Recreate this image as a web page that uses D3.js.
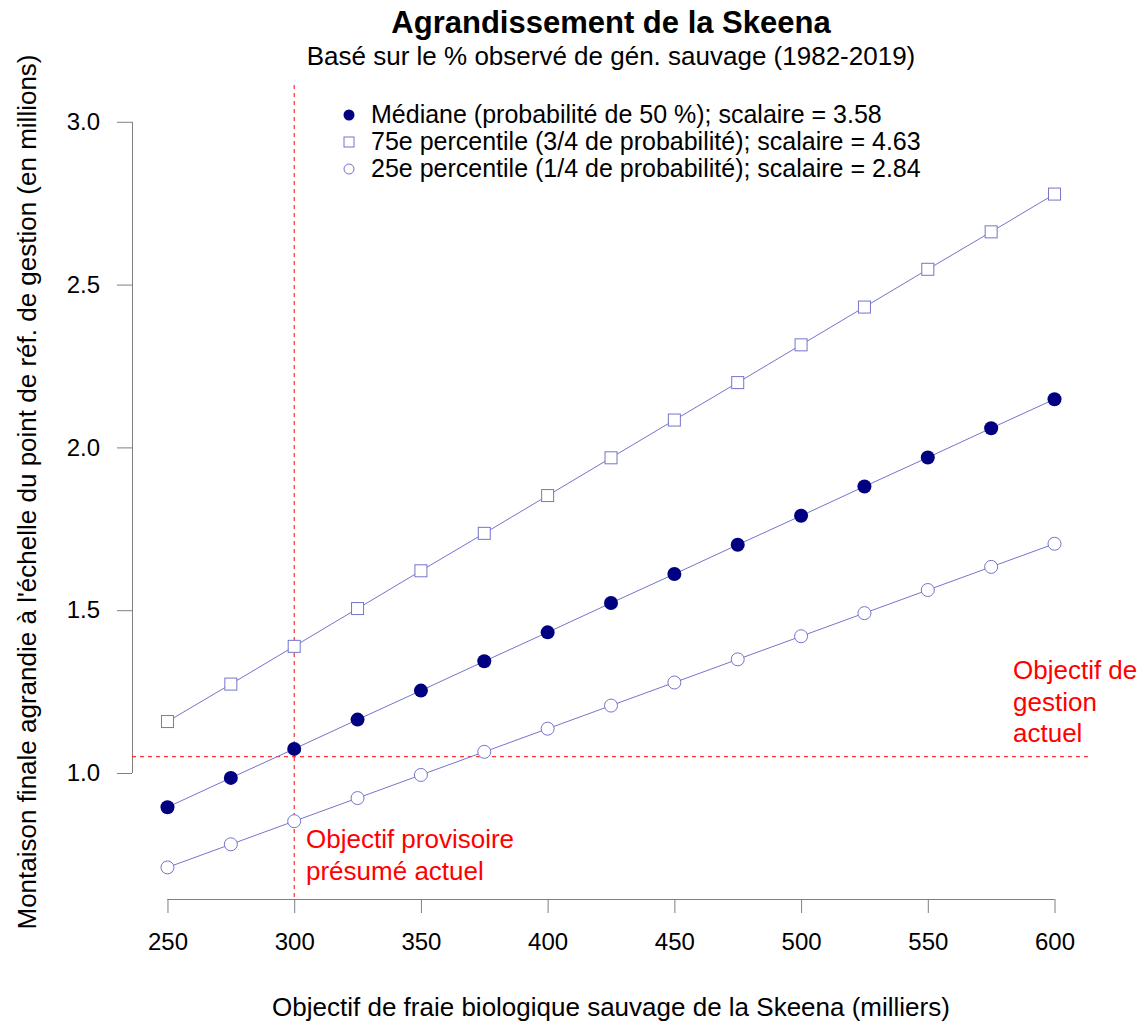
<!DOCTYPE html>
<html>
<head>
<meta charset="utf-8">
<script src="https://cdn.jsdelivr.net/npm/d3@7"></script>
<style>
  body { margin: 0; background: #fff; }
  text { font-family: "Liberation Sans", Arial, sans-serif; }
</style>
</head>
<body>
<svg id="chart" width="1141" height="1025"></svg>
<script>
// escapement goals (thousands)
const goals = [250, 275, 300, 325, 350, 375, 400, 425, 450, 475, 500, 525, 550, 575, 600];
// expanded run size (millions)
const median = [0.895, 0.985, 1.074, 1.164, 1.253, 1.343, 1.432, 1.522, 1.611, 1.701, 1.790, 1.880, 1.969, 2.059, 2.148];
const p75 = [1.158, 1.273, 1.389, 1.505, 1.621, 1.736, 1.852, 1.968, 2.084, 2.199, 2.315, 2.431, 2.547, 2.662, 2.778];
const p25 = [0.710, 0.781, 0.852, 0.923, 0.994, 1.065, 1.136, 1.207, 1.278, 1.349, 1.420, 1.491, 1.562, 1.633, 1.704];
const xTicks = [250, 300, 350, 400, 450, 500, 550, 600];
const yTicks = [1.0, 1.5, 2.0, 2.5, 3.0];
const legendLabels = [
  'Médiane (probabilité de 50 %); scalaire = 3.58',
  '75e percentile (3/4 de probabilité); scalaire = 4.63',
  '25e percentile (1/4 de probabilité); scalaire = 2.84'
];
const mgmtGoal = 1.05;
const interimGoal = 300;

const lineCol = '#7474cc';
const navy = '#000080';

const svg = d3.select('#chart');

// plot region
let plotL = 132, plotR = 1090, plotT = 85, plotB = 899;
let midX = (plotL + plotR) / 2;

let x = d3.scaleLinear().domain([236, 614]).range([plotL, plotR]);
let y = d3.scaleLinear().domain([0.613, 3.113]).range([plotB, plotT]);

// titles
svg.append('text')
  .attr('x', midX).attr('y', 33)
  .attr('text-anchor', 'middle')
  .style('font-size', '31px').style('font-weight', 'bold')
  .text('Agrandissement de la Skeena');
svg.append('text')
  .attr('x', midX).attr('y', 65)
  .attr('text-anchor', 'middle')
  .style('font-size', '26px')
  .text('Basé sur le % observé de gén. sauvage (1982-2019)');

// axes
let xAxis = svg.append('g')
  .attr('transform', 'translate(0,' + plotB + ')')
  .call(d3.axisBottom(x).tickValues(xTicks).tickSize(14).tickPadding(20).tickFormat(d3.format('d')));
let yAxis = svg.append('g')
  .attr('transform', 'translate(' + plotL + ',0)')
  .call(d3.axisLeft(y).tickValues(yTicks).tickSize(15).tickPadding(17).tickFormat(d3.format('.1f')));

[xAxis, yAxis].forEach(function(ax) {
  ax.select('.domain').remove();
  ax.selectAll('.tick line').attr('stroke', '#808080');
  ax.selectAll('.tick text').style('font-size', '24px').attr('fill', '#000')
    .style('font-family', '"Liberation Sans", Arial, sans-serif');
});
// R style axis lines, only between the end ticks
svg.append('line')
  .attr('x1', x(xTicks[0])).attr('x2', x(xTicks[xTicks.length - 1]))
  .attr('y1', plotB + 0.5).attr('y2', plotB + 0.5)
  .attr('stroke', '#808080');
svg.append('line')
  .attr('x1', plotL + 0.5).attr('x2', plotL + 0.5)
  .attr('y1', y(yTicks[0])).attr('y2', y(yTicks[yTicks.length - 1]))
  .attr('stroke', '#808080');

// axis labels
svg.append('text')
  .attr('x', midX).attr('y', 1016)
  .attr('text-anchor', 'middle')
  .style('font-size', '26px')
  .text('Objectif de fraie biologique sauvage de la Skeena (milliers)');
svg.append('text')
  .attr('transform', 'translate(36,' + 492 + ') rotate(-90)')
  .attr('text-anchor', 'middle')
  .style('font-size', '26px')
  .text("Montaison finale agrandie à l'échelle du point de réf. de gestion (en millions)");

// reference lines
svg.append('line')
  .attr('x1', plotL).attr('x2', plotR)
  .attr('y1', y(mgmtGoal)).attr('y2', y(mgmtGoal))
  .attr('stroke', 'red').attr('stroke-dasharray', '4,4');
svg.append('line')
  .attr('x1', x(interimGoal)).attr('x2', x(interimGoal))
  .attr('y1', plotT).attr('y2', plotB)
  .attr('stroke', 'red').attr('stroke-dasharray', '4,4');

// series lines
let line = d3.line()
  .x(function(d, i) { return x(goals[i]); })
  .y(function(d) { return y(d); });

[p75, median, p25].forEach(function(s) {
  svg.append('path')
    .datum(s)
    .attr('d', line)
    .attr('fill', 'none')
    .attr('stroke', lineCol)
    .attr('stroke-width', 1);
});

// markers
svg.append('g').selectAll('rect')
  .data(p75)
  .enter()
  .append('rect')
  .attr('x', function(d, i) { return x(goals[i]) - 6; })
  .attr('y', function(d) { return y(d) - 6; })
  .attr('width', 12).attr('height', 12)
  .attr('fill', '#fff').attr('stroke', lineCol);

svg.append('g').selectAll('circle')
  .data(median)
  .enter()
  .append('circle')
  .attr('cx', function(d, i) { return x(goals[i]); })
  .attr('cy', function(d) { return y(d); })
  .attr('r', 7)
  .attr('fill', navy);

svg.append('g').selectAll('circle')
  .data(p25)
  .enter()
  .append('circle')
  .attr('cx', function(d, i) { return x(goals[i]); })
  .attr('cy', function(d) { return y(d); })
  .attr('r', 6.5)
  .attr('fill', '#fff').attr('stroke', lineCol);

// annotations
let noteGestion = svg.append('text')
  .attr('x', 1013).attr('y', 679)
  .attr('fill', 'red')
  .style('font-size', '26px');
['Objectif de', 'gestion', 'actuel'].forEach(function(t, i) {
  noteGestion.append('tspan').attr('x', 1013).attr('dy', i === 0 ? 0 : 31.5).text(t);
});
let noteProv = svg.append('text')
  .attr('x', 306).attr('y', 848)
  .attr('fill', 'red')
  .style('font-size', '26px');
['Objectif provisoire', 'présumé actuel'].forEach(function(t, i) {
  noteProv.append('tspan').attr('x', 306).attr('dy', i === 0 ? 0 : 31.5).text(t);
});

// legend
let legend = svg.append('g').attr('transform', 'translate(349,115)');
legendLabels.forEach(function(t, i) {
  let g = legend.append('g').attr('transform', 'translate(0,' + (i * 27) + ')');
  if (i === 0) {
    g.append('circle').attr('r', 5.5).attr('fill', navy);
  } else if (i === 1) {
    g.append('rect').attr('x', -5).attr('y', -5).attr('width', 10).attr('height', 10)
      .attr('fill', '#fff').attr('stroke', lineCol);
  } else {
    g.append('circle').attr('r', 5).attr('fill', '#fff').attr('stroke', lineCol);
  }
  g.append('text')
    .attr('x', 22).attr('y', 8)
    .style('font-size', '25px')
    .text(t);
});
</script>
</body>
</html>
